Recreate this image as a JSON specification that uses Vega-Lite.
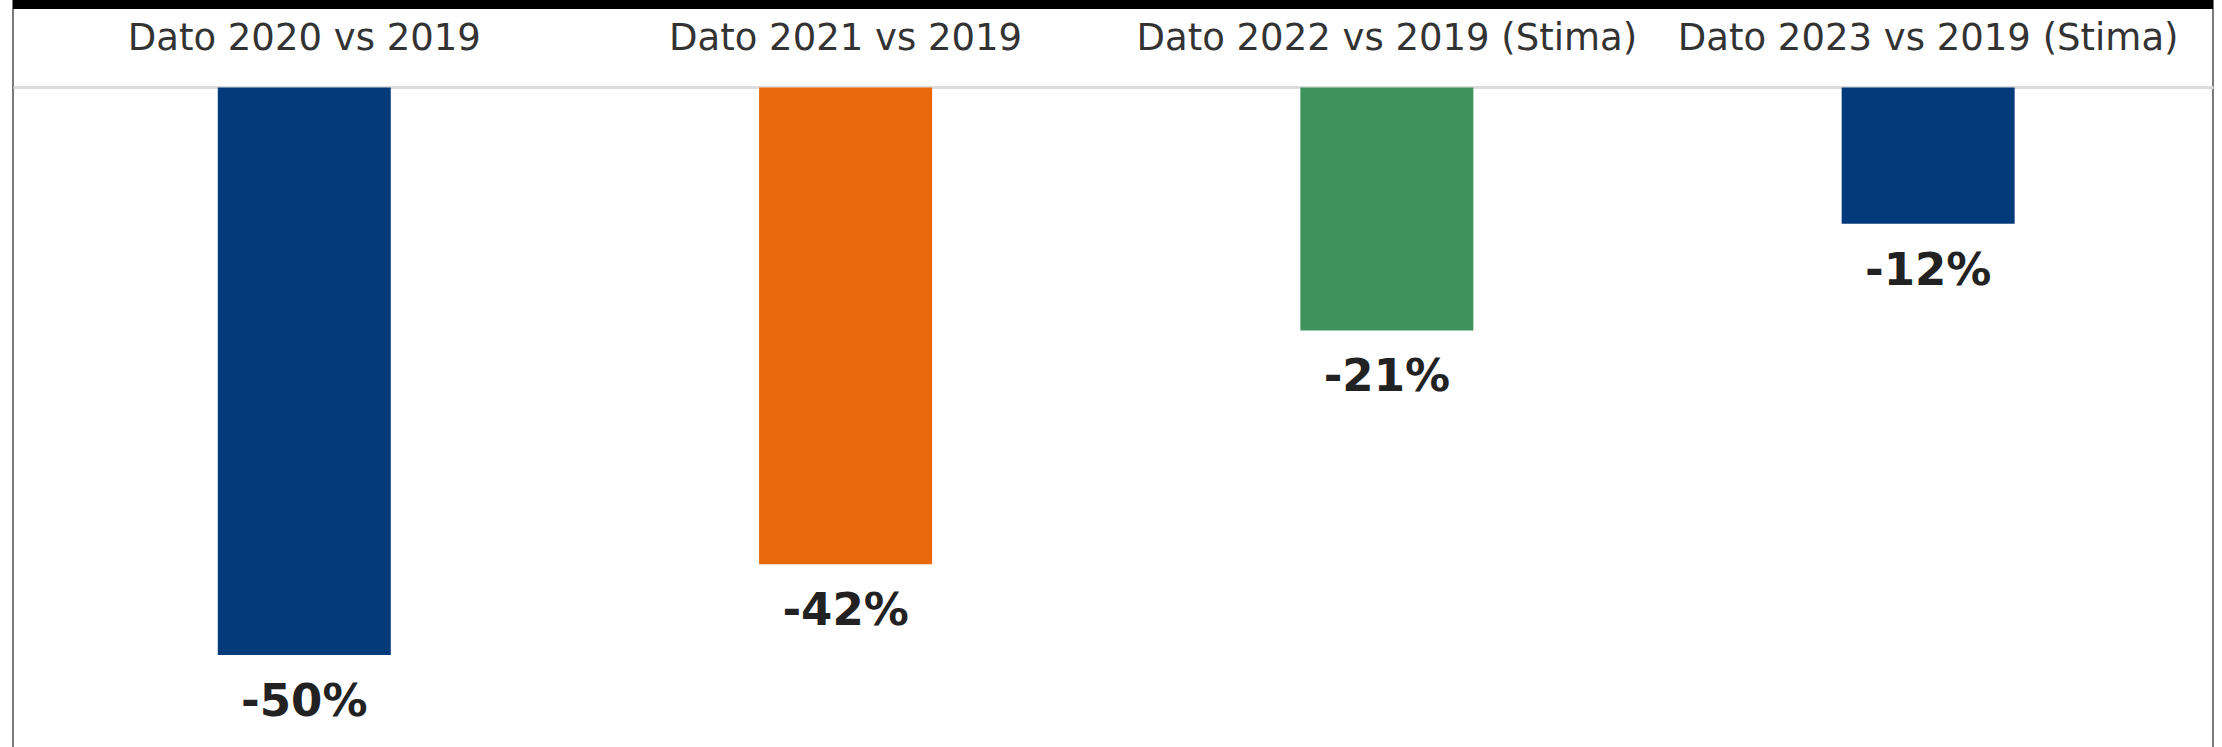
{
  "$schema": "https://vega.github.io/schema/vega-lite/v6.json",
  "width": 2200,
  "height": 760,
  "autosize": {"type": "none"},
  "padding": {"left": 13, "right": 9, "top": 0, "bottom": 0},
  "background": "white",
  "config": {
    "view": {"stroke": "#7a7a7a", "strokeWidth": 2},
    "font": "DejaVu Sans"
  },
  "data": {
    "values": [
      {"periodo": "Dato 2020 vs 2019", "variazione": -50, "etichetta": "-50%"},
      {"periodo": "Dato 2021 vs 2019", "variazione": -42, "etichetta": "-42%"},
      {"periodo": "Dato 2022 vs 2019 (Stima)", "variazione": -21.4, "etichetta": "-21%"},
      {"periodo": "Dato 2023 vs 2019 (Stima)", "variazione": -12, "etichetta": "-12%"}
    ]
  },
  "layer": [
    {
      "mark": {"type": "bar"},
      "encoding": {
        "x": {
          "field": "periodo",
          "type": "nominal",
          "sort": null,
          "scale": {"paddingInner": 0.6804, "paddingOuter": 0.3724, "align": 0.508},
          "axis": {
            "orient": "top",
            "offset": -87,
            "title": null,
            "labelAngle": 0,
            "ticks": false,
            "tickSize": 0,
            "labelPadding": 38,
            "labelBaseline": "alphabetic",
            "labelFontSize": 37,
            "labelFont": "DejaVu Sans",
            "labelColor": "#333333",
            "labelLimit": 0,
            "domainColor": "#dcdcdc",
            "domainWidth": 3
          }
        },
        "y": {
          "field": "variazione",
          "type": "quantitative",
          "scale": {"domain": [-59.25, 7.71], "nice": false, "zero": false},
          "axis": null
        },
        "color": {
          "field": "periodo",
          "type": "nominal",
          "sort": null,
          "scale": {
            "domain": ["Dato 2020 vs 2019", "Dato 2021 vs 2019", "Dato 2022 vs 2019 (Stima)", "Dato 2023 vs 2019 (Stima)"],
            "range": ["#033a7a", "#e9690a", "#3f925c", "#033a7a"]
          },
          "legend": null
        }
      }
    },
    {
      "mark": {"type": "text", "baseline": "alphabetic", "align": "center", "dy": 61, "fontSize": 45, "fontWeight": "bold", "color": "#222222", "font": "DejaVu Sans"},
      "encoding": {
        "x": {"field": "periodo", "type": "nominal", "sort": null},
        "y": {"field": "variazione", "type": "quantitative"},
        "text": {"field": "etichetta", "type": "nominal"}
      }
    },
    {
      "mark": {"type": "rect", "color": "#000000"},
      "encoding": {
        "y": {"datum": 7.71},
        "y2": {"datum": 6.92}
      }
    }
  ]
}
